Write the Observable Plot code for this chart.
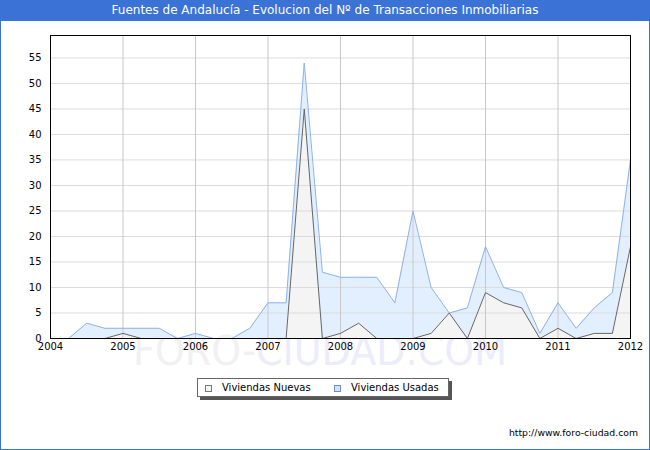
<!DOCTYPE html>
<html><head><meta charset="utf-8">
<script src="https://cdn.jsdelivr.net/npm/d3@7"></script>
<script src="https://cdn.jsdelivr.net/npm/@observablehq/plot@0.6"></script>
<style>
body{margin:0;background:#fff;font-family:"DejaVu Sans",sans-serif;}
#wrap{position:relative;width:650px;height:450px;overflow:hidden;background:#fff;}
#border{position:absolute;left:0;top:0;width:648px;height:448px;border:1px solid #3a72d6;}
#title{position:absolute;left:0;top:0;width:650px;height:21px;background:#3a72d6;color:#fff;font-size:12px;line-height:21px;text-align:center;}
#wm{position:absolute;left:0;top:0;}
#chart{position:absolute;left:0;top:20px;}
#chart svg{background:transparent;}
#legend{position:absolute;left:197px;top:378px;width:250px;height:17px;border:1px solid #666;background:#fff;box-shadow:3px 3px 0 #555;font-size:10px;line-height:17px;color:#000;}
.sw{position:absolute;top:6px;width:5px;height:5px;}
.lt{position:absolute;top:0;}
#url{position:absolute;right:12px;top:427px;font-size:9.3px;color:#000;}
</style></head><body>
<div id="wrap">
  <div id="border"></div>
  <div id="title">Fuentes de Andalucía - Evolucion del Nº de Transacciones Inmobiliarias</div>
  <svg id="wm" width="650" height="450">
    <text x="133" y="365" font-family="DejaVu Sans" font-size="41" textLength="374" lengthAdjust="spacingAndGlyphs"><tspan fill="#f1f1f1">FORO-</tspan><tspan fill="#ececfc">CIUDAD.COM</tspan></text>
  </svg>
  <div id="chart"></div>
  <div id="legend">
    <div class="sw" style="left:7px;background:#f4f4f4;border:1px solid #777;"></div>
    <div class="lt" style="left:24px;">Viviendas Nuevas</div>
    <div class="sw" style="left:136px;background:#cfe5ff;border:1px solid #6f8fc0;"></div>
    <div class="lt" style="left:153px;">Viviendas Usadas</div>
  </div>
  <div id="url">http://www.foro-ciudad.com</div>
</div>
<script>
const quarters = [2004.25, 2004.5, 2004.75, 2005, 2005.25, 2005.5, 2005.75, 2006, 2006.25, 2006.5, 2006.75, 2007, 2007.25, 2007.5, 2007.75, 2008, 2008.25, 2008.5, 2008.75, 2009, 2009.25, 2009.5, 2009.75, 2010, 2010.25, 2010.5, 2010.75, 2011, 2011.25, 2011.5, 2011.75, 2012];
const nuevas = [null, null, 0, 1, 0, 0, 0, 0, 0, 0, 0, 0, 0, 45, 0, 1, 3, 0, 0, 0, 1, 5, 0, 9, 7, 6, 0, 2, 0, 1, 1, 18];
const usadas = [0, 3, 2, 2, 2, 2, 0, 1, 0, 0, 2, 7, 7, 54, 13, 12, 12, 12, 7, 25, 10, 5, 6, 18, 10, 9, 1, 7, 2, 6, 9, 35];
const yTicks = [0, 5, 10, 15, 20, 25, 30, 35, 40, 45, 50, 55];
const xTicks = [2004, 2005, 2006, 2007, 2008, 2009, 2010, 2011, 2012];

const data = quarters.map((q, i) => ({q, n: nuevas[i], u: usadas[i]}));

const chart = Plot.plot({
  width: 650,
  height: 360,
  marginLeft: 50,
  marginRight: 20,
  marginTop: 15,
  marginBottom: 42,
  style: {fontFamily: "DejaVu Sans", fontSize: "10px", color: "#000", background: "transparent"},
  x: {domain: [2004, 2012]},
  y: {domain: [0, 59.4]},
  marks: [
    Plot.areaY(data, {x: "q", y: "u", fill: "#e1efff"}),
    Plot.areaY(data, {x: "q", y: "n", fill: "#f4f4f4"}),
    Plot.gridY(yTicks.filter(t => t > 0), {stroke: "#dcdcdc", strokeOpacity: 1}),
    Plot.gridX(xTicks, {stroke: "#c8c8c8", strokeOpacity: 1}),
    Plot.lineY(data, {x: "q", y: "u", stroke: "#8fb2ec", strokeWidth: 1}),
    Plot.lineY(data, {x: "q", y: "n", stroke: "#666", strokeWidth: 1}),
    Plot.axisY(yTicks, {tickSize: 0, tickPadding: 9, label: null, fill: "#000"}),
    Plot.axisX(xTicks, {tickSize: 0, tickPadding: 4, tickFormat: "d", label: null, fill: "#000"}),
    Plot.frame({stroke: "#000"})
  ]
});
document.getElementById("chart").appendChild(chart);
</script>
</body></html>
